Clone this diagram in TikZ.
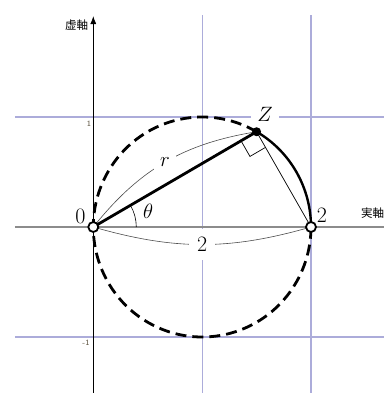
\documentclass[tikz,border=0pt]{standalone}
\usepackage{fontspec}
\newfontfamily\jpfont{Noto Sans CJK JP}
\usetikzlibrary{arrows.meta,calc}
\definecolor{gridc}{RGB}{172,172,218}
\definecolor{axisg}{RGB}{140,140,140}
\definecolor{tickc}{RGB}{90,80,60}
\begin{document}
\begin{tikzpicture}[x=108.85pt,y=110pt,
  gridline/.style={gridc,line width=1.1pt},
  biglabel/.style={font=\fontsize{22}{26}\selectfont, text=black, inner sep=1pt},
  ticklabel/.style={font=\sffamily\fontsize{8}{9}\selectfont, text=tickc, inner sep=0pt},
  jplabel/.style={font=\jpfont\fontsize{11.5}{13}\selectfont, inner sep=0pt},
  dimline/.style={black!70,line width=0.6pt},
  thinline/.style={black,line width=0.7pt},
  thickline/.style={black,line width=2.8pt},
  circdash/.style={black,line width=2.8pt,dash pattern=on 11pt off 6pt},
  opendot/.style={circle,draw=black,fill=white,line width=1.8pt,minimum size=10pt,inner sep=0pt},
  fulldot/.style={circle,fill=black,minimum size=9pt,inner sep=0pt}]
\useasboundingbox (-0.8571,-1.5091) rectangle (2.6707,2.0636);
% coordinates
\coordinate (O) at (0,0);
\coordinate (T) at (2,0);
\coordinate (Z) at (1.5,0.8660);
\coordinate (gl1) at (-0.7193,1);
\coordinate (gr1) at (2.6707,1);
\coordinate (gl2) at (-0.7193,-1);
\coordinate (gr2) at (2.6707,-1);
\coordinate (gt1) at (1,1.927);
\coordinate (gb1) at (1,-1.5091);
\coordinate (gt2) at (2,1.927);
\coordinate (gb2) at (2,-1.5091);
\coordinate (xl) at (-0.7193,0);
\coordinate (xr) at (2.6707,0);
\coordinate (yb) at (0,-1.5091);
\coordinate (yt) at (0,1.918);
% grid
\draw[gridline] (gl1) -- (gr1);
\draw[gridline] (gl2) -- (gr2);
\draw[gridline] (gt1) -- (gb1);
\draw[gridline] (gt2) -- (gb2);
% axes
\draw[axisg,line width=2pt] (xl) -- (xr);
\draw[black,line width=0.8pt,-{Latex[length=8pt,width=6pt]}] (yb) -- (yt);
% axis labels
\node[jplabel,anchor=east] (ly) at (-0.045,1.836) {虚軸};
\node[jplabel,anchor=west] (lx) at (2.459,0.127) {実軸};
\node[ticklabel] (t1) at (-0.040,0.936) {1};
\node[ticklabel] (tm1) at (-0.067,-1.055) {-1};
% dimension curves
\draw[dimline] (O) to[bend left=21] node[midway,biglabel,fill=white,inner sep=6pt] (lr) {$r$} (Z);
\draw[dimline] (O) to[bend right=16] node[midway,biglabel,fill=white,inner sep=8pt] (lb2) {2} (T);
% Z label
\node[biglabel,fill=white,inner sep=6pt] (lZ) at (1.577,1.023) {$Z$};
% angle
\draw[thinline,line width=0.6pt] ($(O)+(43pt,0)$) arc[start angle=0,end angle=30.3,radius=43pt];
\node[biglabel] (lth) at (0.503,0.141) {$\theta$};
% circle
\draw[circdash] (Z) arc[start angle=60,end angle=360,x radius=108.85pt,y radius=110pt];
\draw[black,line width=2.4pt] (Z) arc[start angle=60,end angle=0,x radius=108.85pt,y radius=110pt];
% segments
\draw[thickline] (O) -- (Z);
\draw[thinline] (Z) -- (T);
\coordinate (ra1) at ($(Z)!18pt!(O)$);
\coordinate (ra2) at ($(Z)!18pt!(T)$);
\draw[thinline] (ra1) -- ($(ra1)+(ra2)-(Z)$) -- (ra2);
% point labels
\node[biglabel] (l0) at (-0.118,0.095) {0};
\node[biglabel] (l2) at (2.101,0.105) {2};
% dots
\node[opendot] (dO) at (O) {};
\node[opendot] (dT) at (T) {};
\node[fulldot] (dZ) at (Z) {};
\end{tikzpicture}
\end{document}
